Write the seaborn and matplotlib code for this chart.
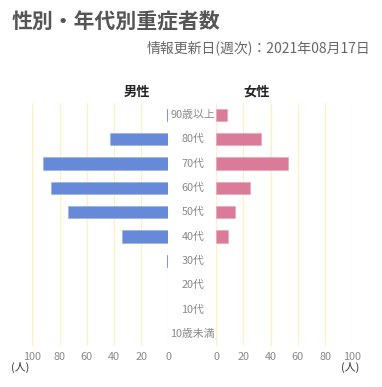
import matplotlib
matplotlib.use("Agg")
import matplotlib.pyplot as plt
import seaborn as sns
import pandas as pd

ages = ["90歳以上", "80代", "70代", "60代", "50代", "40代", "30代", "20代", "10代", "10歳未満"]
male = [1, 43, 92, 86, 74, 34, 1, 0, 0, 0]
female = [8, 33, 53, 25, 14, 9, 0, 0, 0, 0]
ticks = [0, 20, 40, 60, 80, 100]

sns.set_style("white")
plt.rcParams["font.family"] = ["Noto Sans CJK JP", "DejaVu Sans"]

W, H = 382, 387
fig = plt.figure(figsize=(W / 100, H / 100), dpi=100)

def px(x0, y0, x1, y1):
    return [x0 / W, 1 - y1 / H, (x1 - x0) / W, (y1 - y0) / H]

grid_col = "#fbf1c4"
tick_col = "#888888"

axL = fig.add_axes(px(32.3, 102.7, 168.3, 346))
axR = fig.add_axes(px(216, 102.7, 352.3, 346))

df = pd.DataFrame({"age": ages, "male": male, "female": female})

for ax, col, color, edge in [(axL, "male", "#6689d8", "#9db3e5"),
                              (axR, "female", "#d97b99", "#e6a9bc")]:
    for t in ticks:
        ax.axvline(t, color=grid_col, lw=1, zorder=0)
    sns.barplot(data=df, x=col, y="age", order=ages, color=color, ax=ax,
                width=0.5, edgecolor=edge, linewidth=0.5, saturation=1, zorder=2)
    # hide empty bars (their edges would otherwise show)
    for p in ax.patches:
        if p.get_width() == 0:
            p.set_visible(False)
        elif abs(p.get_width()) <= 1:
            p.set_edgecolor(color)
    ax.set_xlim(0, 100)
    ax.set_ylim(len(ages) - 0.5, -0.5)
    ax.set_xticks(ticks)
    ax.set_xticklabels([str(t) for t in ticks])
    ax.tick_params(axis="x", length=0, labelsize=7.8, labelcolor=tick_col, pad=4)
    ax.set_yticks([])
    ax.set_xlabel("")
    ax.set_ylabel("")
    for s in ax.spines.values():
        s.set_visible(False)

axL.invert_xaxis()

for i, a in enumerate(ages):
    axR.text(-0.17, i, a, transform=axR.get_yaxis_transform(), ha="center",
             va="center", fontsize=7.8, color=tick_col)

fig.text(12 / W, 1 - 22 / H, "性別・年代別重症者数", fontsize=15, fontweight="bold",
         color="#555555", ha="left", va="center")
fig.text(370 / W, 1 - 48 / H, "情報更新日(週次)：2021年08月17日", fontsize=10,
         color="#666666", ha="right", va="center")
fig.text(137 / W, 1 - 92 / H, "男性", fontsize=9.5, fontweight="bold",
         color="#222222", ha="center", va="center")
fig.text(257 / W, 1 - 92 / H, "女性", fontsize=9.5, fontweight="bold",
         color="#222222", ha="center", va="center")
fig.text(20 / W, 1 - 367 / H, "(人)", fontsize=7.8, color="#333333",
         ha="center", va="center")
fig.text(350 / W, 1 - 367 / H, "(人)", fontsize=7.8, color="#333333",
         ha="center", va="center")

fig.savefig("out.png", dpi=100)
